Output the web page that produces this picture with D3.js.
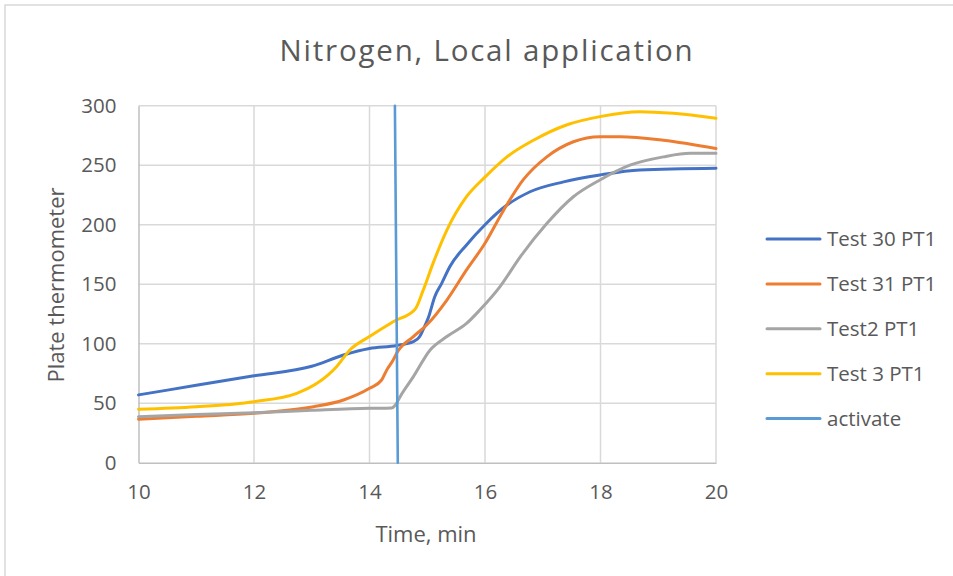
<!DOCTYPE html>
<html>
<head>
<meta charset="utf-8">
<script src="https://cdn.jsdelivr.net/npm/d3@7"></script>
<style>
  html, body { margin: 0; padding: 0; background: #ffffff; }
  svg { display: block; font-family: "Open Sans", "Liberation Sans", sans-serif; }
</style>
</head>
<body>
<svg id="chart" width="953" height="576"></svg>
<script>
// ---- data (time in min, plate thermometer reading) ----
const test30 = [[10,57],[11,65],[12,73],[13,81],[13.55,90.5],[14.0,96],[14.47,98.5],[14.76,101.7],[14.87,106],[14.93,112],[15.02,122],[15.13,139.5],[15.25,150.7],[15.39,164.7],[15.68,183],[16.0,200],[16.38,216.5],[16.78,227.7],[17.36,236],[17.99,241.8],[18.68,246],[20,247.4]];
const test31 = [[10,36.5],[11,39],[12,41.5],[13.03,47],[13.55,52.7],[14.0,62.5],[14.21,69.5],[14.30,78],[14.41,86.3],[14.47,92],[14.76,106],[14.99,115.7],[15.34,136.7],[15.68,162],[16.0,184.4],[16.32,212],[16.66,237.6],[17.07,257],[17.53,269.7],[17.99,274],[18.34,274],[19.09,271],[20,264]];
const test2 = [[10,38.7],[11,40.5],[12,42],[13,44],[14,45.7],[14.38,46],[14.45,48.5],[14.53,55.5],[14.76,72.3],[15.05,94.7],[15.34,106],[15.68,117],[15.91,128.3],[16.26,148],[16.61,173],[17.07,201],[17.53,223.5],[17.99,237.6],[18.51,250],[19.09,257],[19.55,260],[20,260]];
const test3 = [[10,44.9],[11,47],[12,51.3],[12.74,58.3],[13.09,66.7],[13.43,80.7],[13.66,94.7],[14.0,106],[14.41,118.5],[14.79,129],[14.93,145],[15.1,167.5],[15.34,195.5],[15.68,223.5],[16.0,240],[16.38,257],[16.84,271],[17.41,283.8],[17.99,290.8],[18.68,295],[19.26,293.6],[20,289.4]];
const activate = [[14.44,300],[14.49,0]];

const seriesNames = ["Test 30 PT1","Test 31 PT1","Test2 PT1","Test 3 PT1","activate"];
const seriesData = [test30, test31, test2, test3, activate];
const seriesColors = ["#4472C4","#ED7D31","#A5A5A5","#FFC000","#5B9BD5"];

const xTicks = [10,12,14,16,18,20];
const yTicks = [0,50,100,150,200,250,300];
const chartTitle = "Nitrogen, Local application";
const xTitle = "Time, min";
const yTitle = "Plate thermometer";

// ---- layout ----
const svg = d3.select("#chart");
const plot = {left: 138.5, right: 716, top: 105.7, bottom: 462.7};
const x = d3.scaleLinear().domain([10,20]).range([plot.left, plot.right]);
const y = d3.scaleLinear().domain([0,300]).range([plot.bottom, plot.top]);
const textColor = "#595959";

// outer chart border
svg.append("rect").attr("x",5).attr("y",5).attr("width",1000).attr("height",1000)
  .attr("fill","none").attr("stroke","#d9d9d9").attr("stroke-width",1.5);

// title
svg.append("text").attr("x",487).attr("y",61).attr("text-anchor","middle")
  .attr("font-size",29.5).attr("letter-spacing",1.8).attr("fill",textColor).text(chartTitle);

// gridlines
const grid = svg.append("g");
grid.selectAll("line.h").data(yTicks.filter(d=>d>0)).join("line")
  .attr("x1",plot.left).attr("x2",plot.right).attr("y1",d=>y(d)).attr("y2",d=>y(d))
  .attr("stroke","#d9d9d9").attr("stroke-width",1.5);
grid.selectAll("line.v").data(xTicks.filter(d=>d>10)).join("line")
  .attr("y1",plot.top).attr("y2",plot.bottom).attr("x1",d=>x(d)).attr("x2",d=>x(d))
  .attr("stroke","#d9d9d9").attr("stroke-width",1.5);

// axes
const xAxis = svg.append("g").attr("transform",`translate(0,${plot.bottom})`)
  .call(d3.axisBottom(x).tickValues(xTicks).tickSize(0).tickPadding(22).tickFormat(d3.format("d")));
const yAxis = svg.append("g").attr("transform",`translate(${plot.left},0)`)
  .call(d3.axisLeft(y).tickValues(yTicks).tickSize(0).tickPadding(22).tickFormat(d3.format("d")));
[xAxis, yAxis].forEach(a => {
  a.select(".domain").attr("stroke","#bfbfbf").attr("stroke-width",1.5);
  a.selectAll("text").attr("fill",textColor).attr("font-size",20.5)
    .attr("font-family","'Open Sans', sans-serif");
});

// axis titles
svg.append("text").attr("x",426).attr("y",542).attr("text-anchor","middle")
  .attr("font-size",22).attr("fill",textColor).text(xTitle);
svg.append("text").attr("transform","translate(64,285) rotate(-90)").attr("text-anchor","middle")
  .attr("font-size",22).attr("fill",textColor).text(yTitle);

// lines
const line = d3.line().x(d=>x(d[0])).y(d=>y(d[1])).curve(d3.curveMonotoneX);
const lineStraight = d3.line().x(d=>x(d[0])).y(d=>y(d[1]));
svg.append("g").selectAll("path").data(seriesData).join("path")
  .attr("d",(d,i)=> i===4 ? lineStraight(d) : line(d))
  .attr("fill","none")
  .attr("stroke",(d,i)=>seriesColors[i])
  .attr("stroke-width",(d,i)=> i===4 ? 2.6 : 3)
  .attr("stroke-linejoin","round").attr("stroke-linecap","round");

// legend
const legend = svg.append("g");
const legY0 = 239, legStep = 44.9;
seriesNames.forEach((name,i)=>{
  const ly = legY0 + i*legStep;
  legend.append("line").attr("x1",767).attr("x2",820).attr("y1",ly).attr("y2",ly)
    .attr("stroke",seriesColors[i]).attr("stroke-width",3).attr("stroke-linecap","round");
  legend.append("text").attr("x",827).attr("y",ly).attr("dy","0.35em")
    .attr("font-size",20.5).attr("fill",textColor).text(name);
});
</script>
</body>
</html>
